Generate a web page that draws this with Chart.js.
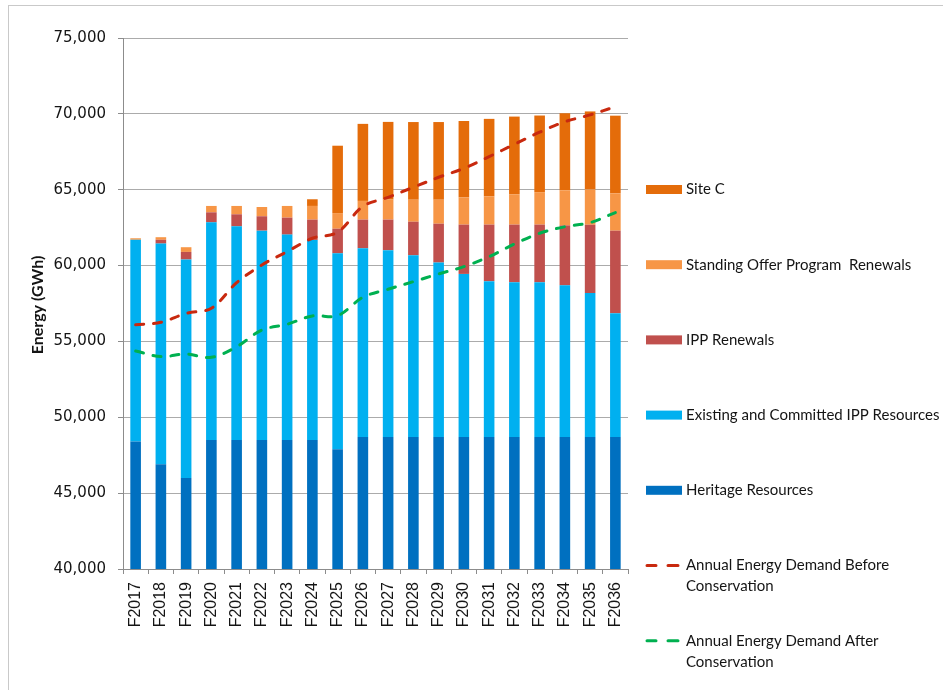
<!DOCTYPE html>
<html lang="en">
<head>
<meta charset="UTF-8">
<title>Energy supply and demand</title>
<script src="https://cdn.jsdelivr.net/npm/chart.js"></script>
<style>
  body, html {
    margin: 0;
    background: #fff;
    overflow: hidden;
  }
  .wrap {
    position: relative;
    width: 943px;
    height: 690px;
    overflow: hidden;
  }
  /* thin frame round the chart; only the top and left edges fall inside */
  .frame {
    position: absolute;
    left: 8px;
    top: 5px;
    width: 960px;
    height: 720px;
    border: 1px solid #c9c9c9;
  }
  #energyChart {
    position: absolute;
    left: 0;
    top: 0;
  }
</style>
</head>
<body>
<div class="wrap">
  <div class="frame"></div>
  <canvas id="energyChart" width="943" height="690"></canvas>
</div>

<script>
// fiscal years
var years = ['F2017', 'F2018', 'F2019', 'F2020', 'F2021', 'F2022', 'F2023', 'F2024', 'F2025', 'F2026',
             'F2027', 'F2028', 'F2029', 'F2030', 'F2031', 'F2032', 'F2033', 'F2034', 'F2035', 'F2036'];

// supply (GWh), bottom of the stack first
var heritage   = [48400, 46900, 46000, 48500, 48500, 48500, 48500, 48500, 47900, 48700,
                  48700, 48700, 48700, 48700, 48700, 48700, 48700, 48700, 48700, 48700];
var existingIpp = [13300, 14550, 14400, 14350, 14090, 13800, 13540, 13190, 12910, 12440,
                   12310, 11980, 11500, 10750, 10270, 10200, 10200, 10000, 9490, 8160];
var ippRenewals = [0, 250, 500, 660, 790, 950, 1120, 1340, 1620, 1890,
                   2020, 2210, 2560, 3250, 3730, 3800, 3800, 3950, 4500, 5440];
var sopRenewals = [100, 170, 310, 420, 550, 610, 770, 900, 1030, 1230,
                   1320, 1450, 1580, 1800, 1870, 2000, 2140, 2310, 2330, 2460];
var siteC      = [0, 0, 0, 0, 0, 0, 0, 440, 4440, 5080,
                  5120, 5120, 5120, 5030, 5100, 5120, 5050, 5080, 5140, 5120];

// demand (GWh)
var demandBefore = [56100, 56260, 56850, 57190, 58870, 60040, 60920, 61800, 62200, 63900,
                    64500, 65160, 65820, 66410, 67180, 67990, 68790, 69480, 69930, 70470];
var demandAfter  = [54370, 54000, 54170, 53950, 54650, 55750, 56130, 56680, 56700, 57910,
                    58440, 58940, 59450, 59930, 60590, 61420, 62130, 62560, 62830, 63490];

var yTicks = [40000, 45000, 50000, 55000, 60000, 65000, 70000, 75000];

var textColor = '#141414';
var gridColor = '#ababab';
var axisColor = '#8c8c8c';

function bar(label, data, color) {
  return {
    type: 'bar',
    label: label,
    data: data,
    backgroundColor: color,
    borderWidth: 0,
    barPercentage: 0.42,
    categoryPercentage: 1.0,
    order: 1
  };
}

function dashed(label, data, color, stack) {
  return {
    type: 'line',
    label: label,
    data: data,
    borderColor: color,
    backgroundColor: color,
    borderWidth: 3,
    borderDash: [8, 10],
    borderCapStyle: 'round',
    pointRadius: 0,
    tension: 0.35,
    fill: false,
    stack: stack,
    order: 0
  };
}

// legend on the right, Site C at the top; long labels wrap to two lines
var sideLegend = {
  id: 'sideLegend',
  afterDraw: function(chart) {
    var ctx = chart.ctx;
    var ds = chart.data.datasets;
    var rows = [
      { i: 4, text: ['Site C'] },
      { i: 3, text: ['Standing Offer Program  Renewals'] },
      { i: 2, text: ['IPP Renewals'] },
      { i: 1, text: ['Existing and Committed IPP Resources'] },
      { i: 0, text: ['Heritage Resources'] },
      { i: 5, text: ['Annual Energy Demand Before', 'Conservation'] },
      { i: 6, text: ['Annual Energy Demand After', 'Conservation'] }
    ];
    var x0 = 646, y0 = 189.5, step = 75.2;
    ctx.save();
    ctx.font = '15px Lato';
    ctx.textBaseline = 'middle';
    rows.forEach(function(r, k) {
      var y = y0 + k * step;
      var d = ds[r.i];
      if (d.type === 'line') {
        ctx.strokeStyle = d.borderColor;
        ctx.lineWidth = 3;
        ctx.lineCap = 'round';
        ctx.beginPath();
        ctx.moveTo(x0 + 1, y); ctx.lineTo(x0 + 10, y);
        ctx.moveTo(x0 + 22, y); ctx.lineTo(x0 + 32, y);
        ctx.stroke();
      } else {
        ctx.fillStyle = d.backgroundColor;
        ctx.fillRect(x0, y - 4.5, 36, 9);
      }
      ctx.fillStyle = textColor;
      r.text.forEach(function(t, j) {
        ctx.fillText(t, x0 + 40, y + j * 21);
      });
    });

    // y axis title
    ctx.font = 'bold 16px Lato';
    ctx.textAlign = 'center';
    ctx.translate(38, 305);
    ctx.rotate(-Math.PI / 2);
    ctx.fillText('Energy (GWh)', 0, 0);
    ctx.restore();
  }
};

var ctx = document.getElementById('energyChart').getContext('2d');
var energyChart = new Chart(ctx, {
  data: {
    labels: years,
    datasets: [
      bar('Heritage Resources', heritage, '#0070C0'),
      bar('Existing and Committed IPP Resources', existingIpp, '#00B0F0'),
      bar('IPP Renewals', ippRenewals, '#C0504D'),
      bar('Standing Offer Program  Renewals', sopRenewals, '#F79646'),
      bar('Site C', siteC, '#E46C0A'),
      dashed('Annual Energy Demand Before Conservation', demandBefore, '#C8290F', 'before'),
      dashed('Annual Energy Demand After Conservation', demandAfter, '#00B050', 'after')
    ]
  },
  options: {
    responsive: false,
    animation: false,
    layout: { padding: { top: 38, right: 315, bottom: 0, left: 0 } },
    plugins: {
      legend: { display: false },
      tooltip: { enabled: false }
    },
    scales: {
      x: {
        stacked: true,
        afterFit: function(scale) { scale.height = 121; },
        grid: {
          offset: true,
          drawOnChartArea: false,
          drawTicks: true,
          tickLength: 5,
          color: axisColor
        },
        border: { color: axisColor },
        ticks: {
          autoSkip: false,
          minRotation: 90,
          maxRotation: 90,
          padding: 8,
          color: textColor,
          font: { family: 'Liberation Sans', size: 16 }
        }
      },
      y: {
        stacked: true,
        min: 40000,
        max: 75000,
        afterFit: function(scale) { scale.width = 123; },
        afterBuildTicks: function(scale) {
          scale.ticks = yTicks.map(function(v) { return { value: v }; });
        },
        grid: {
          color: gridColor,
          tickLength: 5,
          tickColor: axisColor
        },
        border: { color: axisColor },
        ticks: {
          padding: 12,
          color: textColor,
          font: { family: 'DejaVu Sans', size: 15 },
          callback: function(v) { return v.toLocaleString('en-US'); }
        }
      }
    }
  },
  plugins: [sideLegend]
});
</script>
</body>
</html>
